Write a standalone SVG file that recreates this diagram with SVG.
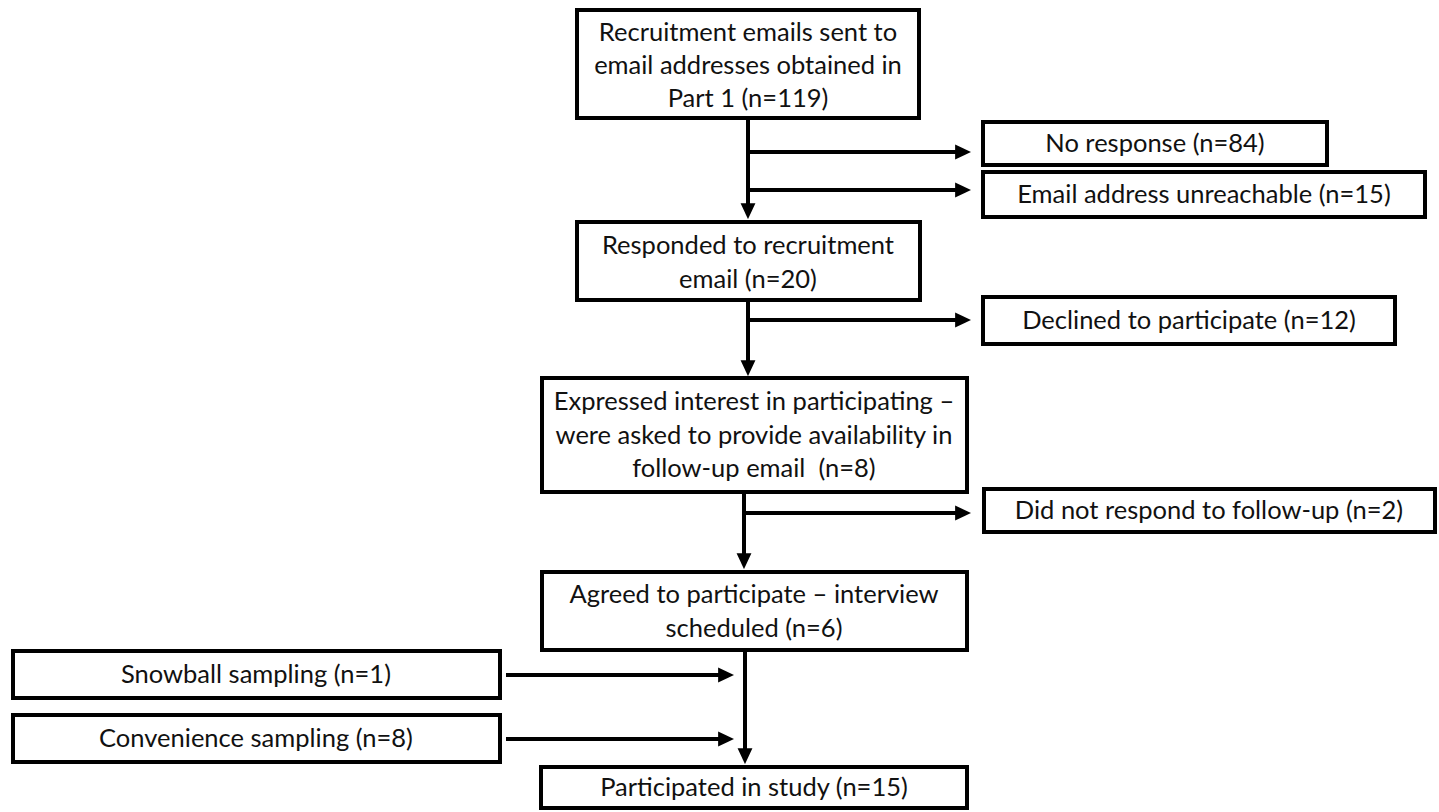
<svg xmlns="http://www.w3.org/2000/svg" width="1439" height="812" viewBox="0 0 1439 812">
<style>
  .box { fill: #ffffff; stroke: #000000; stroke-width: 4; }
  .t { font-family: Lato, "Open Sans", "Liberation Sans", sans-serif; font-size: 25.5px; fill: #111111; text-anchor: middle; }
  .c { fill: none; stroke: #000000; stroke-width: 4; }
</style>
<defs>
  <marker id="ah" markerUnits="userSpaceOnUse" markerWidth="16" markerHeight="16" viewBox="0 0 14 14" refX="6" refY="7" orient="auto">
    <path d="M0,0.5 L14,7 L0,13.5 z" fill="#000000"/>
  </marker>
</defs>
<rect width="1439" height="812" fill="#ffffff"/>

<g id="connectors">
  <path class="c" d="M748,118 V210" marker-end="url(#ah)"/>
  <path class="c" d="M748,152 H962" marker-end="url(#ah)"/>
  <path class="c" d="M748,190 H962" marker-end="url(#ah)"/>
  <path class="c" d="M748,300 V367" marker-end="url(#ah)"/>
  <path class="c" d="M748,320 H962" marker-end="url(#ah)"/>
  <path class="c" d="M744,492 V560" marker-end="url(#ah)"/>
  <path class="c" d="M744,513 H962" marker-end="url(#ah)"/>
  <path class="c" d="M745,650 V755" marker-end="url(#ah)"/>
  <path class="c" d="M506,675 H725" marker-end="url(#ah)"/>
  <path class="c" d="M506,739 H725" marker-end="url(#ah)"/>
</g>

<g id="n1">
  <rect class="box" x="577" y="10" width="342" height="108"/>
  <text class="t" x="748" y="41">Recruitment emails sent to</text>
  <text class="t" x="748" y="74">email addresses obtained in</text>
  <text class="t" x="748" y="107">Part 1 (n=119)</text>
</g>
<g id="n2">
  <rect class="box" x="983" y="122" width="344" height="43"/>
  <text class="t" x="1155" y="152">No response (n=84)</text>
</g>
<g id="n3">
  <rect class="box" x="983" y="172" width="442" height="45"/>
  <text class="t" x="1204" y="203">Email address unreachable (n=15)</text>
</g>
<g id="n4">
  <rect class="box" x="577" y="222" width="343" height="78"/>
  <text class="t" x="748" y="254">Responded to recruitment</text>
  <text class="t" x="748" y="288">email (n=20)</text>
</g>
<g id="n5">
  <rect class="box" x="983" y="297" width="412" height="47"/>
  <text class="t" x="1189" y="329">Declined to participate (n=12)</text>
</g>
<g id="n6">
  <rect class="box" x="542" y="378" width="425" height="114"/>
  <text class="t" x="754" y="410">Expressed interest in participating –</text>
  <text class="t" x="754" y="444">were asked to provide availability in</text>
  <text class="t" x="754" y="477" xml:space="preserve">follow-up email  (n=8)</text>
</g>
<g id="n7">
  <rect class="box" x="984" y="489" width="451" height="43"/>
  <text class="t" x="1209" y="519">Did not respond to follow-up (n=2)</text>
</g>
<g id="n8">
  <rect class="box" x="542" y="572" width="425" height="78"/>
  <text class="t" x="754" y="603">Agreed to participate – interview</text>
  <text class="t" x="754" y="637">scheduled (n=6)</text>
</g>
<g id="n9">
  <rect class="box" x="13" y="651" width="487" height="47"/>
  <text class="t" x="256" y="683">Snowball sampling (n=1)</text>
</g>
<g id="n10">
  <rect class="box" x="13" y="715" width="487" height="47"/>
  <text class="t" x="256" y="747">Convenience sampling (n=8)</text>
</g>
<g id="n11">
  <rect class="box" x="541" y="767" width="426" height="41"/>
  <text class="t" x="754" y="796">Participated in study (n=15)</text>
</g>
</svg>
